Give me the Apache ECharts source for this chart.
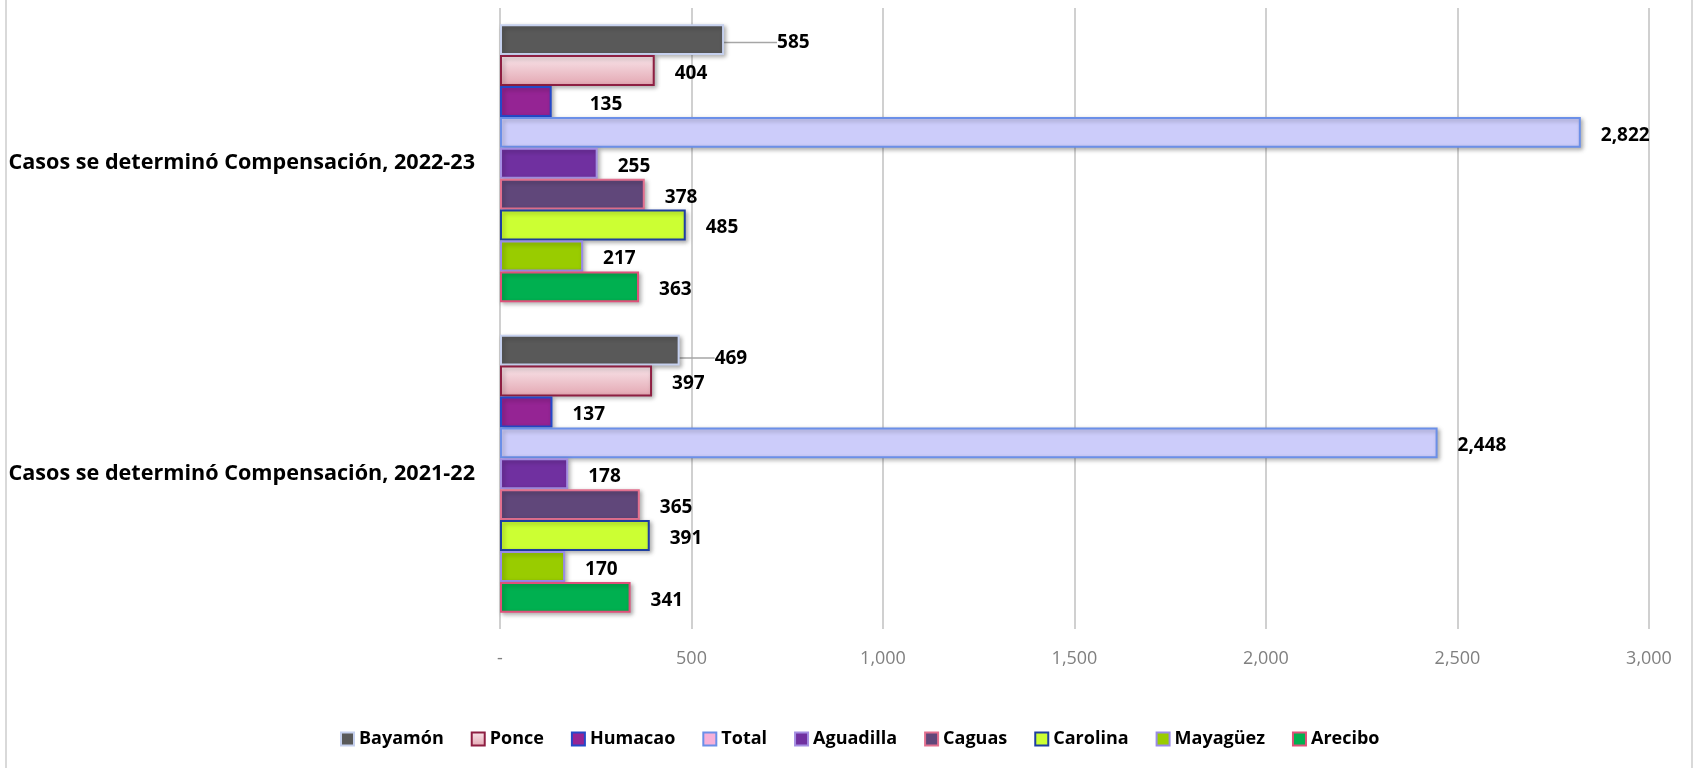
<!DOCTYPE html>
<html>
<head>
<meta charset="utf-8">
<script src="https://cdn.jsdelivr.net/npm/echarts@6/dist/echarts.min.js"></script>
<style>
html,body{margin:0;padding:0;background:#fff;}
#chart{width:1694px;height:768px;}
</style>
</head>
<body>
<div id="chart"></div>
<script>
// ---- data ----
const categories = ['Casos se determinó Compensación, 2021-22', 'Casos se determinó Compensación, 2022-23'];
const seriesNames = ['Bayamón', 'Ponce', 'Humacao', 'Total', 'Aguadilla', 'Caguas', 'Carolina', 'Mayagüez', 'Arecibo'];
const bayamon   = [469, 585];
const ponce     = [397, 404];
const humacao   = [137, 135];
const total     = [2448, 2822];
const aguadilla = [178, 255];
const caguas    = [365, 378];
const carolina  = [391, 485];
const mayaguez  = [170, 217];
const arecibo   = [341, 363];
const xTicks = [0, 500, 1000, 1500, 2000, 2500, 3000];

const values = [bayamon, ponce, humacao, total, aguadilla, caguas, carolina, mayaguez, arecibo];

// ---- styles ----
const styles = [
  {color: '#595959', borderColor: '#c5d0ee'},
  {color: {type: 'linear', x: 0, y: 0, x2: 0, y2: 1, colorStops: [{offset: 0, color: '#f9e6eb'}, {offset: 1, color: '#e3a6b1'}]}, borderColor: '#8e1f42'},
  {color: '#952494', borderColor: '#2449c9'},
  {color: '#ccccfa', borderColor: '#6b8fe8'},
  {color: '#7030a0', borderColor: '#a48ee2'},
  {color: '#60477a', borderColor: '#e2708f'},
  {color: '#ccff33', borderColor: '#1f3fa0'},
  {color: '#99cc00', borderColor: '#9a8be8'},
  {color: '#00b050', borderColor: '#e0507a'}
];
// label adjustments: [seriesIndex][dataIndex] -> [dx, dy]
const labelAdjust = {
  0: {0: [15, 8], 1: [33, 3]},
  2: {1: [18, 3]}
};

const FONT = '"Open Sans", "Noto Sans", sans-serif';

const series = seriesNames.map((name, i) => ({
  name: name,
  type: 'bar',
  data: values[i],
  barGap: '0%',
  barCategoryGap: '10.4%',
  itemStyle: Object.assign({
    borderWidth: 2,
    shadowBlur: 4,
    shadowOffsetX: 2,
    shadowOffsetY: 2,
    shadowColor: 'rgba(0,0,0,0.28)'
  }, styles[i]),
  label: {
    show: true,
    position: 'right',
    distance: 20,
    color: '#000',
    fontFamily: FONT,
    fontWeight: 'bold',
    fontSize: 19,
    formatter: p => p.value.toLocaleString('en-US')
  },
  labelLine: i === 0 ? {show: true, lineStyle: {color: '#a6a6a6', width: 1.5}} : undefined,
  labelLayout: function (p) {
    const a = (labelAdjust[i] && labelAdjust[i][p.dataIndex]) || [0, 3];
    return {dx: a[0], dy: a[1]};
  }
}));

const legendData = seriesNames.map(n => n === 'Total'
  ? {name: n, itemStyle: {color: '#f7b0d8', borderColor: '#6b8fe8'}}
  : {name: n});

const chart = echarts.init(document.getElementById('chart'));
chart.setOption({
  animation: false,
  backgroundColor: '#fff',
  graphic: [
    {type: 'rect', shape: {x: 5, y: 0, width: 2, height: 768}, style: {fill: '#d9d9d9'}},
    {type: 'rect', shape: {x: 1691, y: 0, width: 2, height: 768}, style: {fill: '#d9d9d9'}}
  ],
  grid: {left: 500, right: 45, top: 8, bottom: 139, containLabel: false},
  legend: {
    data: legendData,
    left: 335,
    top: 725,
    itemWidth: 13,
    itemHeight: 13,
    itemGap: 27,
    icon: 'rect',
    textStyle: {fontFamily: FONT, fontWeight: 'bold', fontSize: 18, color: '#000'}
  },
  xAxis: {
    type: 'value',
    min: 0,
    max: 3000,
    interval: 500,
    axisLine: {show: false},
    axisTick: {show: false},
    splitLine: {show: true, lineStyle: {color: '#d0d0d0', width: 2}},
    axisLabel: {
      margin: 21,
      color: '#808080',
      fontFamily: FONT,
      fontSize: 18,
      formatter: v => v === 0 ? '-' : v.toLocaleString('en-US')
    }
  },
  yAxis: {
    type: 'category',
    data: categories,
    axisLine: {show: false},
    axisTick: {show: false},
    axisLabel: {
      margin: 25,
      color: '#000',
      fontFamily: FONT,
      fontWeight: 'bold',
      fontSize: 21.6
    }
  },
  series: series
});
</script>
</body>
</html>
